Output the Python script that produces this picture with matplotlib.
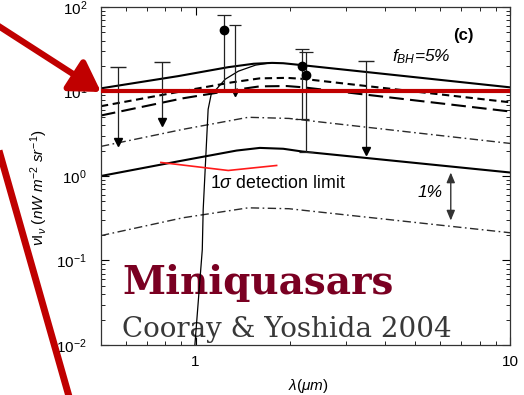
import matplotlib
matplotlib.use("Agg")
import matplotlib.pyplot as plt
import numpy as np

plt.rcParams['font.family'] = ['Liberation Sans', 'DejaVu Sans']
plt.rcParams['mathtext.fontset'] = 'custom'
plt.rcParams['mathtext.rm'] = 'Liberation Sans'
plt.rcParams['mathtext.it'] = 'Liberation Sans:italic'
plt.rcParams['mathtext.bf'] = 'Liberation Sans:bold'

# model spectra, wavelength in micron, nu I_nu in nW m^-2 sr^-1
lam_top = [0.5, 0.88, 1.27, 1.53, 1.75, 1.9, 2.18, 10]
top_5pc = [10.9, 15.2, 19.4, 21.3, 21.8, 21.6, 20.5, 11.2]

lam_dash = [0.5, 0.91, 1.3, 1.6, 1.95, 2.2, 10]
short_dash = [6.7, 10.1, 12.8, 14.3, 14.5, 14.1, 7.45]
long_dash = [5.2, 8.3, 10.3, 11.5, 11.6, 11.2, 5.8]

lam_dd = [0.5, 0.91, 1.47, 1.98, 10]
dashdot_hi = [2.24, 3.56, 4.95, 4.8, 2.43]
dashdot_lo = [0.197, 0.32, 0.42, 0.41, 0.213]

lam_low = [0.5, 0.88, 1.35, 1.6, 1.9, 2.18, 10]
low_1pc = [1.0, 1.49, 2.0, 2.15, 2.1, 1.95, 1.10]

# model with the Lyman cut-off
lam_cut = [0.99, 1.05, 1.057, 1.096, 1.121, 1.163, 1.243, 1.368, 1.55, 1.7]
cut_val = [0.008, 0.134, 0.40, 6.15, 9.3, 10.6, 14.0, 17.4, 20.5, 21.6]

# upper limits
ul_lam = [0.565, 0.781, 3.49]
ul_top = [19.4, 22.2, 22.9]
ul_bot = [2.5, 4.3, 1.95]

# measurements
pt_lam = [1.234, 2.176, 2.24]
pt_val = [53.3, 19.9, 15.6]
pt_hi = [80.3, 31.7, 29.2]
pt_lo = [10.5, 4.7, 1.9]

# extra bar without a point
bar_lam = 1.338
bar_top = 61.0
bar_bot = 9.3

# 1 sigma detection limit
lim_lam = [0.7755, 1.27, 1.81]
lim_val = [1.446, 1.162, 1.332]

# 1% range arrow
pc_lam = 6.48
pc_top = 1.1
pc_bot = 0.297

red = '#c00000'

fig = plt.figure(figsize=(5.24, 3.95), dpi=100)
ax = fig.add_axes([0.1927, 0.1266, 0.7806, 0.8557])
ax.set_xscale('log')
ax.set_yscale('log')
ax.set_xlim(0.5, 10)
ax.set_ylim(0.01, 100)

ax.plot(lam_top, top_5pc, color='k', lw=1.5)
ax.plot(lam_dash, short_dash, color='k', lw=1.5, dashes=(3.5, 2.2))
ax.plot(lam_dash, long_dash, color='k', lw=1.5, dashes=(7, 3))
ax.plot(lam_dd, dashdot_hi, color='#2a2a2a', lw=1.0, dashes=(6, 2.5, 1.2, 2.5))
ax.plot(lam_dd, dashdot_lo, color='#2a2a2a', lw=1.0, dashes=(6, 2.5, 1.2, 2.5))
ax.plot(lam_low, low_1pc, color='k', lw=1.5)
ax.plot(lam_cut, cut_val, color='k', lw=0.9)

# upper limits: cap on top, arrow head at the bottom
ax.vlines(ul_lam, ul_bot, ul_top, color='#222222', lw=0.9)
ax.plot(ul_lam, ul_top, ls='none', marker='_', ms=11, mew=1.0, color='#222222')
ax.plot(ul_lam, ul_bot, ls='none', marker='v', ms=5.5, color='k')

yerr = [np.array(pt_val) - np.array(pt_lo), np.array(pt_hi) - np.array(pt_val)]
ax.errorbar(pt_lam, pt_val, yerr=yerr, fmt='o', ms=6, color='k',
            ecolor='#222222', elinewidth=0.9, capsize=5, capthick=0.9)
ax.vlines(bar_lam, bar_bot, bar_top, color='#222222', lw=0.9)
ax.plot(bar_lam, bar_top, marker='_', ms=9, mew=0.9, color='#222222')
ax.plot(bar_lam, bar_bot, marker='v', ms=3, color='k')

ax.plot(lim_lam, lim_val, color='#ff1a1a', lw=1.2)
ax.text(1.113, 0.815, r'1$\sigma$ detection limit', fontsize=12.8, va='center')

ax.annotate('', xy=(pc_lam, pc_bot), xytext=(pc_lam, pc_top),
            arrowprops=dict(arrowstyle='<|-|>,head_length=0.6,head_width=0.25',
                            color='#333333', lw=1.0, shrinkA=0, shrinkB=0))
ax.text(5.55, 0.637, '1%', fontsize=12.5, style='italic', ha='center', va='center')
ax.text(4.22, 25.5, r'$f_{BH}$=5%', fontsize=12.5, style='italic', va='center')
ax.text(0.885, 0.917, '(c)', transform=ax.transAxes, fontsize=12,
        fontweight='bold', ha='center', va='center')

ax.axhline(10, color=red, lw=3, zorder=5)

ax.set_xticks([1, 10])
ax.set_xticklabels(['1', '10'])
ax.xaxis.set_minor_formatter(matplotlib.ticker.NullFormatter())
ax.tick_params(which='both', direction='in', top=True, right=True, labelsize=11)
ax.tick_params(which='major', length=6, width=0.8)
ax.tick_params(which='minor', length=3, width=0.6)
ax.tick_params(axis='y', pad=10)
ax.tick_params(axis='x', pad=7)
for s in ax.spines.values():
    s.set_linewidth(0.9)
    s.set_color('#333333')

ax.set_xlabel(r'$\lambda(\mu m)$', fontsize=11)
ax.xaxis.set_label_coords(0.506, -0.095)
ax.set_ylabel(r'$\nu\mathrm{I}_{\nu}\ (nW\ m^{-2}\ sr^{-1})$', fontsize=11)
ax.yaxis.set_label_coords(-0.124, 0.465)

ax.text(0.2328, 0.2557, 'Miniquasars', transform=fig.transFigure, fontsize=28,
        fontweight='bold', family='DejaVu Serif', color='#7a0022', zorder=1)
ax.text(0.2328, 0.1468, 'Cooray & Yoshida 2004', transform=fig.transFigure,
        fontsize=20, family='DejaVu Serif', color='#383838', zorder=1)

# pointer overlay in pixel coordinates
ov = fig.add_axes([0, 0, 1, 1], zorder=10)
ov.set_xlim(0, 524)
ov.set_ylim(395, 0)
ov.axis('off')
ov.annotate('', xy=(101, 92), xytext=(-10, 20.5),
            arrowprops=dict(arrowstyle='-|>,head_length=0.9,head_width=0.55',
                            color=red, lw=4.5, shrinkA=0, shrinkB=0,
                            mutation_scale=20))
ov.plot([-4, 70], [140, 400], color=red, lw=5, solid_capstyle='butt')

fig.savefig('out.png', dpi=100)
